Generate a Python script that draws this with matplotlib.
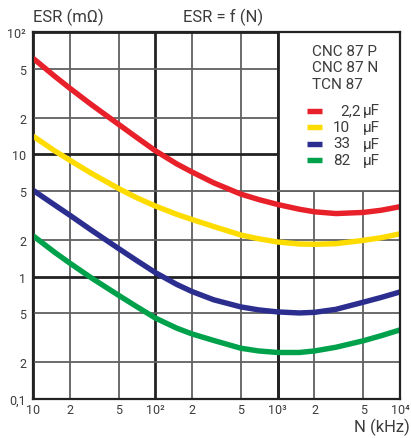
"""ESR versus frequency for the CNC 87 / TCN 87 capacitor families."""
import matplotlib
matplotlib.use("Agg")
import matplotlib.pyplot as plt
from matplotlib.lines import Line2D
from matplotlib.patches import Rectangle

freq = [10, 15, 20, 30, 50, 70, 100, 150, 200, 300, 500, 700,
        1000, 1500, 2000, 3000, 5000, 7000, 10000]

# ESR in mOhm for each capacitance
esr_2u2 = [61.0, 43.6, 34.7, 25.5, 17.6, 13.8, 10.7, 8.34, 7.16, 5.85, 4.73, 4.27,
           3.89, 3.56, 3.39, 3.28, 3.35, 3.49, 3.73]
esr_10u = [14.1, 10.7, 8.95, 7.0, 5.26, 4.43, 3.78, 3.23, 2.93, 2.57, 2.19, 2.04,
           1.92, 1.85, 1.84, 1.86, 1.98, 2.08, 2.24]
esr_33u = [5.09, 3.86, 3.18, 2.40, 1.70, 1.36, 1.08, 0.863, 0.755, 0.647, 0.566, 0.535,
           0.515, 0.505, 0.511, 0.541, 0.618, 0.676, 0.75]
esr_82u = [2.16, 1.585, 1.29, 0.977, 0.705, 0.571, 0.459, 0.379, 0.340, 0.301, 0.260,
           0.247, 0.240, 0.240, 0.247, 0.265, 0.299, 0.329, 0.367]

series_labels = ["2,2", "10", "33", "82"]
series_colors = ["#e8202a", "#ffdc00", "#2b2e8e", "#00a14b"]

x_ticks = [10, 20, 50, 100, 200, 500, 1000, 2000, 5000, 10000]
x_labels = ["10", "2", "5", "10²", "2", "5", "10³", "2", "5", "10⁴"]
y_ticks = [0.1, 0.2, 0.5, 1, 2, 5, 10, 20, 50, 100]
y_labels = ["0,1", "2", "5", "1", "2", "5", "10", "2", "5", "10²"]
decades_x = [10, 100, 1000, 10000]
decades_y = [0.1, 1, 10, 100]

FONT = ["Roboto", "DejaVu Sans"]
TXT = "#3c3c3c"
W, H = 411, 439


def px(x, y):
    """pixel position (from top left) -> figure fraction"""
    return x / W, 1 - y / H


fig = plt.figure(figsize=(W / 100, H / 100), dpi=100)
ax = fig.add_axes([33 / W, 1 - 400 / H, 367 / W, 367 / H])
ax.set_xscale("log")
ax.set_yscale("log")
ax.set_xlim(10, 10000)
ax.set_ylim(0.1, 100)

# grid drawn by hand: heavier lines on the decades
for v in x_ticks:
    heavy = v in decades_x
    ax.axvline(v, color="#222222" if heavy else "#606060",
               lw=2.0 if heavy else 1.3, zorder=1)
for v in y_ticks:
    heavy = v in decades_y
    ax.axhline(v, color="#222222" if heavy else "#606060",
               lw=2.0 if heavy else 1.3, zorder=1)

# white legend panel in the top right corner
ax.add_patch(Rectangle((1000, 5), 9000, 95, facecolor="white",
                       edgecolor="none", zorder=1.5))
ax.axvline(1000, color="#222222", lw=2.0, zorder=1.6)
ax.plot([1000, 10000], [5, 5], color="#606060", lw=1.3, zorder=1.6)

for ys, c in zip([esr_2u2, esr_10u, esr_33u, esr_82u], series_colors):
    ax.plot(freq, ys, color=c, lw=3.9, solid_capstyle="butt",
            solid_joinstyle="round", zorder=3)

ax.set_xticks(x_ticks)
ax.set_xticklabels(x_labels)
ax.set_yticks(y_ticks)
ax.set_yticklabels(y_labels)
ax.minorticks_off()
ax.tick_params(length=0, labelsize=9, labelcolor=TXT)
ax.tick_params(axis="x", pad=3)
ax.tick_params(axis="y", pad=5)
for lab in ax.get_xticklabels() + ax.get_yticklabels():
    lab.set_family(FONT)
for s in ax.spines.values():
    s.set_color("#222222")
    s.set_linewidth(1.6)
    s.set_zorder(4)

fig.text(*px(33, 17), "ESR (mΩ)", family=FONT, fontsize=12, color=TXT,
         ha="left", va="center")
fig.text(*px(223, 17), "ESR = f (N)", family=FONT, fontsize=12, color=TXT,
         ha="center", va="center")
fig.text(*px(410, 427), "N (kHz)", family=FONT, fontsize=12, color=TXT,
         ha="right", va="center")

# legend
for i, name in enumerate(["CNC 87 P", "CNC 87 N", "TCN 87"]):
    fig.text(*px(312, 52 + 16.5 * i), name, family=FONT, fontsize=11,
             color=TXT, ha="left", va="center")
for i, (lab, c) in enumerate(zip(series_labels, series_colors)):
    yy = 111.5 + 16.5 * i
    x0, y0 = px(307, yy)
    x1, _ = px(322, yy)
    fig.add_artist(Line2D([x0, x1], [y0, y0], color=c, lw=3.9,
                          solid_capstyle="butt"))
    fig.text(*px(340 if lab == "2,2" else 333, yy), lab, family=FONT,
             fontsize=11, color=TXT, ha="left", va="center")
    fig.text(*px(363, yy), "µF", family=FONT, fontsize=11, color=TXT,
             ha="left", va="center")

fig.savefig("out.png", dpi=100, facecolor="white")
